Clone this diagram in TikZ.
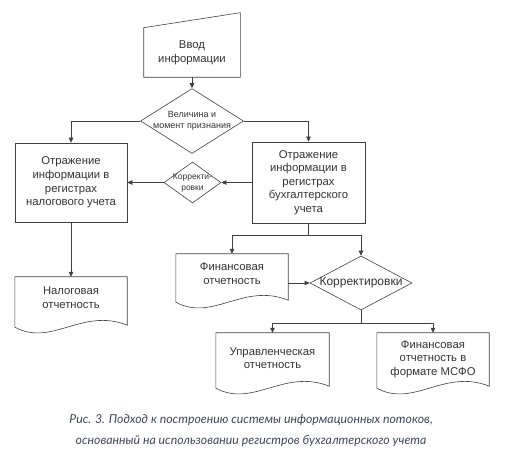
\documentclass[tikz,border=0pt]{standalone}
\usepackage{fontspec}
\setmainfont{Liberation Sans}
\newfontfamily\capfont{Lato}
\usepackage{tikz}
\usetikzlibrary{positioning}
\usetikzlibrary{shapes.geometric,calc,arrows.meta}
\definecolor{capgray}{HTML}{3E4757}

% outline of a document node: straight top and sides, wavy bottom
\newcommand{\docwave}[1]{%
 \draw[link] (#1.south west) -- (#1.north west) -- (#1.north east) -- ($(#1.south east)+(0,2)$)
  .. controls ($(#1.south west)!0.6!(#1.south east)+(0,20)$) and ($(#1.south west)!0.33!(#1.south east)+(0,-20)$) .. (#1.south west) -- cycle;}

\begin{document}
\begin{tikzpicture}[x=1pt,y=1pt,
 box/.style={draw=black!75,line width=0.6pt,minimum width=112pt,minimum height=80pt,align=center,inner sep=0pt,font=\fontsize{11.3}{13.6}\selectfont,text=black!80},
 doc/.style={minimum width=112pt,inner sep=0pt,text depth=9pt,align=center,font=\fontsize{11.3}{13.6}\selectfont,text=black!80},
 dia/.style={draw=black!75,line width=0.6pt,shape=diamond,inner sep=-8pt,align=center,text=black!80},
 link/.style={draw=black!75,line width=0.6pt},
 flow/.style={link,-{Triangle[length=5pt,width=4.5pt]}}]
 \useasboundingbox (0,0) rectangle (509,450);

 % upper part
 \node[box,draw=none,minimum width=96pt,minimum height=49pt] (input) at (192,397.5) {Ввод\\информации};
 \draw[link] (input.north west) -- (input.south west) -- (input.south east) -- ($(input.north east)+(0,15)$) -- cycle;
 \node[dia,minimum width=103pt,minimum height=54pt,font=\fontsize{9}{11}\selectfont] (size) at (192,329) {Величина и\\момент признания};
 \node[box,minimum width=112pt,minimum height=79pt] (tax) at (71,267.5) {Отражение\\информации в\\регистрах\\налогового учета};
 \node[box,minimum width=113pt,minimum height=81pt] (acc) at (308.5,267.5) {Отражение\\информации в\\регистрах\\бухгалтерского\\учета};
 \node[dia,minimum width=57pt,minimum height=41pt,font=\fontsize{8.5}{11}\selectfont] (corr) at (192.5,267.5) {Корректи-\\ровки};

 \draw[flow] (input) -- (size);
 \draw[flow] (size.west) -| (tax.north);
 \draw[flow] (size.east) -| (acc.north);
 \draw[flow] (acc.west) -- (corr.east);
 \draw[flow] (corr.west) -- (tax.east);

 % reports
 \node[doc,minimum height=50pt] (taxrep) at (71,148) {Налоговая\\отчетность};
 \node[doc,minimum height=48pt] (finrep) at (232,172) {Финансовая\\отчетность};
 \node[dia,minimum width=102pt,minimum height=54pt,inner sep=-12pt,font=\fontsize{12}{13.6}\selectfont] (adj) at (361,167) {Корректировки};
 \node[doc,minimum width=113pt,minimum height=55pt,text depth=5pt] (mgmt) at (272.5,89.5) {Управленческая\\отчетность};
 \node[doc,minimum height=55pt,text depth=5pt] (ifrs) at (433,89.5) {Финансовая\\отчетность в\\формате МСФО};
 \docwave{taxrep}
 \docwave{finrep}
 \docwave{mgmt}
 \docwave{ifrs}

 \draw[flow] (tax) -- (taxrep);
 \draw[link] (acc.south) -- ++(0,-12) coordinate (split1);
 \draw[flow] (split1) -| (finrep.north);
 \draw[flow] (split1) -| (adj.north);
 \draw[flow] (finrep.east |- adj.west) -- (adj.west);
 \draw[link] (adj.south) -- ++(0,-13) coordinate (split2);
 \draw[flow] (split2) -| (mgmt.north);
 \draw[flow] (split2) -| (ifrs.north);

 % caption
 \node[font=\capfont\itshape\fontsize{12.3}{20.5}\selectfont,text=capgray,align=center] (caption) at (251,19.5) {Рис. 3. Подход к построению системы информационных потоков,\\основанный на использовании регистров бухгалтерского учета};
\end{tikzpicture}
\end{document}
